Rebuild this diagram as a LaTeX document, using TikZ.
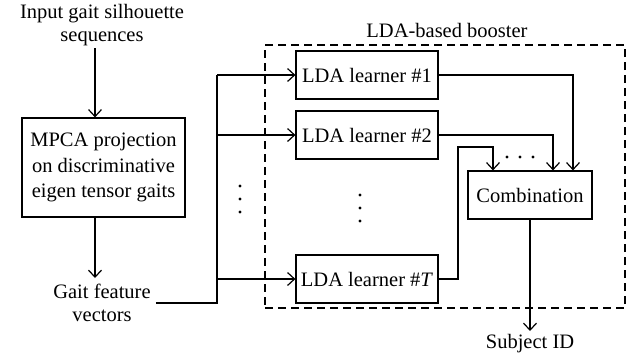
\documentclass[tikz,border=0pt]{standalone}
\usepackage{fontspec}
\setmainfont{Liberation Serif}
\usetikzlibrary{arrows.meta}
\begin{document}
\begin{tikzpicture}[x=1pt,y=-1pt,
  every node/.style={font=\fontsize{20.5}{23}\selectfont, inner sep=0pt, align=center},
  box/.style={draw, line width=1.2pt, rectangle},
  conn/.style={line width=1.2pt},
  arr/.style={conn, -{Straight Barb[length=7pt,width=13pt,line width=1.2pt]}},
  dotc/.style={circle, fill, minimum size=3.2pt, inner sep=0pt}
]
\useasboundingbox (0,0) rectangle (635,362);
% texts
\node (in) at (102,25) {Input gait silhouette\\sequences};
\node[box, minimum width=163pt, minimum height=99pt, font=\fontsize{20.5}{25.5}\selectfont] (mpca) at (103.5,167.5) {MPCA projection\\on discriminative\\eigen tensor gaits};
\node (gait) at (102,303) {Gait feature\\vectors};
\node (boost) at (447,30) {LDA-based booster};
\node[draw, dash pattern=on 8pt off 5pt, line width=1.2pt, minimum width=360pt, minimum height=263pt, inner sep=0pt] (dash) at (445,176.5) {};
\node[box, minimum width=142pt, minimum height=48pt] (l1) at (367,75) {LDA learner \#1};
\node[box, minimum width=142pt, minimum height=48pt] (l2) at (367,135) {LDA learner \#2};
\node[box, minimum width=142pt, minimum height=48pt] (lt) at (367,279) {LDA learner \#\textit{T}};
\node[box, minimum width=124pt, minimum height=48pt] (comb) at (530,195) {Combination};
\node (sid) at (530,344) {Subject ID};
% coordinates
\coordinate (a1) at (95,48);
\coordinate (a2) at (95,278);
\coordinate (bus) at (217,303);
\coordinate (bustop) at (217,75);
\coordinate (k1) at (573,75);
\coordinate (k2) at (553,135);
\coordinate (kt1) at (458,279);
\coordinate (kt2) at (458,147);
\coordinate (kt3) at (493,147);
\coordinate (s1) at (530,331);
% arrows
\draw[arr] (a1) -- (a1 |- mpca.north);
\draw[arr] (mpca.south -| a2) -- (a2);
\draw[conn] (gait.east) ++(5,0) -- (bus) -- (bustop);
\draw[arr] (bustop) -- (l1.west);
\draw[arr] (bustop |- l2) -- (l2.west);
\draw[arr] (bustop |- lt) -- (lt.west);
\draw[arr] (l1.east) -- (k1) -- (k1 |- comb.north);
\draw[arr] (l2.east) -- (k2) -- (k2 |- comb.north);
\draw[arr] (lt.east) -- (kt1) -- (kt2) -- (kt3) -- (kt3 |- comb.north);
\draw[arr] (comb.south) -- (s1);
% dots
\foreach \y [count=\i] in {186,199,212} \node[dotc] (va\i) at (240,\y) {};
\foreach \y [count=\i] in {195,208,221} \node[dotc] (vb\i) at (360,\y) {};
\foreach \x [count=\i] in {507,520,533} \node[dotc] (hd\i) at (\x,157) {};
\end{tikzpicture}
\end{document}
